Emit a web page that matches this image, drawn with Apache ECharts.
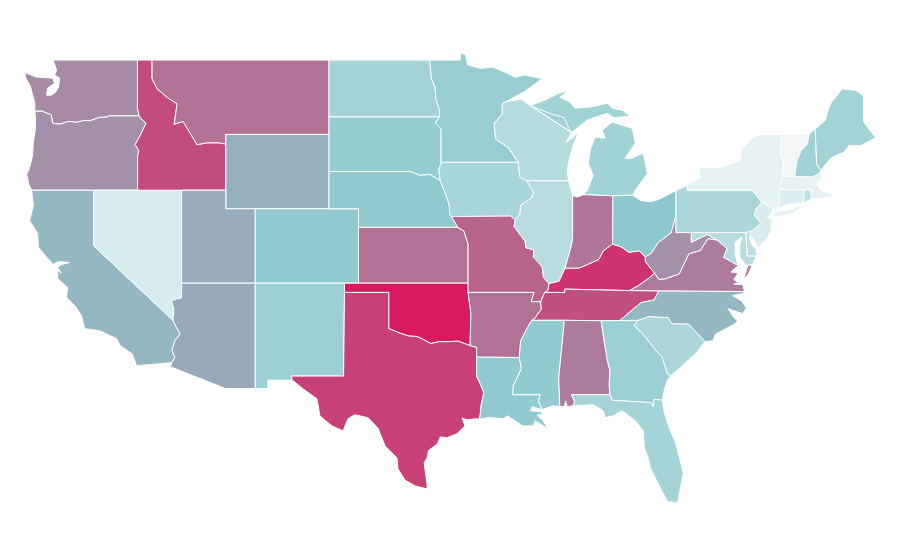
<!DOCTYPE html>
<html><head><meta charset="utf-8">
<style>html,body{margin:0;padding:0;background:#fff}#c{width:900px;height:560px}</style>
<script src="https://cdn.jsdelivr.net/npm/echarts@6/dist/echarts.min.js"></script>
</head><body><div id="c"></div>
<script>
const stateNames=["Washington","Oregon","California","Nevada","Idaho","Montana","Wyoming","Utah","Arizona","Colorado","New Mexico","North Dakota","South Dakota","Nebraska","Kansas","Oklahoma","Texas","Minnesota","Iowa","Missouri","Arkansas","Louisiana","Wisconsin","Illinois","Michigan","Indiana","Ohio","Kentucky","Tennessee","Mississippi","Alabama","Georgia","Florida","South Carolina","North Carolina","Virginia","West Virginia","Pennsylvania","New York","Vermont","New Hampshire","Maine","Massachusetts","Connecticut","Rhode Island","New Jersey","Delaware","Maryland"];
const stateValues=[68,66,55,16,86,75,57,58,59,48,43,39,45,48,75,100,89,44,36,79,75,47,31,29,40,74,50,93,85,47,72,43,38,35,55,72,66,35,8,1,40,39,8,14,25,15,27,30];
const colorStops=['#f5f5f7','#dff0f2','#c0e0e3','#a6d5d9','#8cc8cc','#9f9db1','#b27296','#c5467b','#d81b60'];

const borders={
wa_n:[-122.76,49,-117.04,49],
wa_pug:[-122.76,49,-122.52,48.46,-122.66,48.19,-122.32,48.03,-122.39,47.54,-122.6,47.27,-122.86,47.11,-123.2,47.11,-123.13,47.49,-122.66,47.76,-122.8,48.03,-123.88,48.08,-124.7,48.33,-124.6,48.0,-124.3,47.6,-124.15,47.11,-124,46.7,-124,46.25],
wa_or:[-124,46.25,-123.5,46.25,-123.2,46.15,-122.88,46.05,-122.8,45.6,-122.3,45.55,-121.7,45.7,-121.2,45.65,-120.65,45.75,-120.2,45.75,-119.6,45.92,-119.1,45.93,-118.98,46,-116.92,46],
wa_id:[-116.92,46,-117.04,46.4,-117.04,49],
or_coast:[-124,46.25,-123.95,45.9,-123.97,45.2,-124.1,44.6,-124.15,43.9,-124.35,43.2,-124.55,42.84,-124.4,42.3,-124.22,42],
or_ca:[-124.22,42,-120,42],
or_nv:[-120,42,-117.03,42],
or_id:[-116.92,46,-116.8,45.85,-116.46,45.6,-116.85,44.95,-117.2,44.45,-117.03,44.25,-116.95,44.1,-117.03,43.83,-117.03,42],
id_n:[-117.04,49,-116.05,49],
id_mt:[-116.05,49,-116.05,48,-115.7,47.45,-114.95,46.95,-114.35,46.65,-114.55,45.55,-113.95,45.7,-113.45,45.05,-113,44.45,-112.3,44.55,-111.5,44.55,-111.05,44.48],
id_wy:[-111.05,44.48,-111.05,42],
id_ut:[-111.05,42,-114.04,42],
id_nv:[-114.04,42,-117.03,42],
mt_n:[-116.05,49,-104.05,49],
mt_nd:[-104.05,49,-104.05,45.94],
mt_sd:[-104.05,45.94,-104.05,45],
mt_wy:[-104.05,45,-111.05,45,-111.05,44.48],
wy_sd:[-104.05,45,-104.05,43],
wy_ne:[-104.05,43,-104.05,41],
wy_co:[-104.05,41,-109.05,41],
wy_ut:[-109.05,41,-111.05,41,-111.05,42],
nv_ut:[-114.04,42,-114.04,37],
nv_az:[-114.04,37,-114.05,36.2,-114.4,36.15,-114.74,36.05,-114.57,35.6,-114.63,35],
nv_ca:[-114.63,35,-120,39,-120,42],
ca_coast:[-124.22,42,-124.09,41.18,-124.36,40.37,-123.81,39.67,-123.75,38.92,-123.1,38.3,-122.66,37.95,-122.66,38.06,-122.32,38.16,-121.64,38.11,-122.18,38,-122.46,37.85,-122.2,37.52,-122.46,37.7,-122.45,37.25,-121.78,36.76,-121.85,36.22,-121.3,35.8,-120.83,35.25,-120.62,34.55,-119.6,34.44,-118.45,34.01,-118.2,33.63,-117.4,33.2,-117.1,32.56],
ca_s:[-117.1,32.56,-114.72,32.72],
ca_az:[-114.72,32.72,-114.5,33,-114.7,33.4,-114.5,33.9,-114.15,34.27,-114.45,34.7,-114.63,35],
az_ut:[-114.04,37,-109.05,37],
az_nm:[-109.05,37,-109.05,31.33],
az_s:[-109.05,31.33,-111.07,31.33,-114.81,32.5,-114.72,32.72],
ut_co:[-109.05,41,-109.05,37],
co_ne:[-104.05,41,-102.05,41,-102.05,40],
co_ks:[-102.05,40,-102.05,37],
co_ok:[-102.05,37,-103,37],
co_nm:[-103,37,-109.05,37],
nm_ok:[-103,37,-103,36.5],
nm_tx:[-103,36.5,-103.06,32,-106.62,32,-106.53,31.78],
nm_s:[-106.53,31.78,-108.2,31.78,-108.2,31.33,-109.05,31.33],
nd_n:[-104.05,49,-97.23,49],
nd_mn:[-97.23,49,-97.1,48,-96.85,47.5,-96.8,46.9,-96.55,46.3,-96.56,45.94],
nd_sd:[-96.56,45.94,-104.05,45.94],
sd_mn:[-96.56,45.94,-96.85,45.6,-96.45,45.3,-96.45,43.5],
sd_ia:[-96.45,43.5,-96.6,43.1,-96.5,42.5],
sd_ne:[-96.5,42.5,-97.2,42.85,-97.9,42.8,-98.5,43,-104.05,43],
ne_ia:[-96.5,42.5,-96.1,41.7,-95.9,41.2,-95.85,40.7,-95.75,40.58],
ne_mo:[-95.75,40.58,-95.31,40],
ne_ks:[-95.31,40,-102.05,40],
ks_mo:[-95.31,40,-94.9,39.8,-94.62,39.1,-94.62,37],
ks_ok:[-94.62,37,-102.05,37],
ok_mo:[-94.62,37,-94.62,36.5],
ok_ar:[-94.62,36.5,-94.43,35.4,-94.48,33.64],
ok_tx:[-94.48,33.64,-95.3,33.88,-96,33.85,-96.6,33.85,-97.15,33.75,-97.6,33.95,-98.1,34.13,-98.6,34.15,-99.2,34.3,-100,34.56,-100,36.5,-103,36.5],
tx_ar:[-94.48,33.64,-94.04,33.55,-94.04,33.02],
tx_la:[-94.04,33.02,-94.04,32,-93.8,31.6,-93.55,31.1,-93.72,30.5,-93.8,29.9,-93.84,29.69],
tx_coast:[-93.84,29.69,-94.15,29.7,-94.7,29.65,-95.03,29.75,-94.83,29.32,-95.37,28.9,-96.05,28.68,-96.5,28.73,-96.7,28.35,-97.3,28.0,-97.4,27.6,-97.6,27.33,-97.5,26.74,-97.4,26.2,-97.4,25.93],
tx_mx:[-97.4,25.93,-98.2,26.09,-98.9,26.41,-99.37,27,-99.44,27.6,-100.25,28.25,-100.73,29.2,-101.4,29.76,-102.3,29.92,-102.77,29.7,-103.1,29.05,-103.85,29.32,-104.67,29.86,-104.87,30.78,-105.82,31.32,-106.53,31.78],
mn_n:[-97.23,49,-95.15,49,-95.15,49.38,-94.8,49.3,-94.65,48.75,-93.8,48.55,-92.95,48.62,-92,48.3,-91.4,48.07,-90.8,48.2,-89.6,48,-90.8,47.3,-92.1,46.75],
mn_wi:[-92.1,46.75,-92.3,46.65,-92.3,46.1,-92.85,45.6,-92.75,44.75,-91.9,44.3,-91.22,43.5],
mn_ia:[-91.22,43.5,-96.45,43.5],
ia_wi:[-91.22,43.5,-91.1,42.7,-90.64,42.51],
ia_il:[-90.64,42.51,-90.15,41.85,-90.35,41.55,-91.05,41.2,-91.1,40.7,-91.42,40.38],
ia_mo:[-91.42,40.38,-91.73,40.61,-95.75,40.58],
mo_il:[-91.42,40.38,-91.5,40.05,-90.75,39.25,-90.7,38.9,-90.15,38.8,-90.2,38.4,-89.6,37.9,-89.5,37.3,-89.13,36.98],
mo_ky:[-89.13,36.98,-89.2,36.6,-89.42,36.5],
mo_tn:[-89.42,36.5,-89.7,36],
mo_ar:[-89.7,36,-90.35,36,-90.15,36.5,-94.62,36.5],
ar_tn:[-89.7,36,-89.65,35.6,-90.1,35.1,-90.3,35],
ar_ms:[-90.3,35,-90.6,34.6,-91.05,33.9,-91.15,33],
ar_la:[-91.15,33,-94.04,33.02],
la_ms:[-91.15,33,-91,32.4,-91.55,31.5,-91.6,31,-89.73,31,-89.85,30.65,-89.6,30.2],
la_coast:[-89.6,30.2,-90.27,30.35,-90.4,30.13,-89.73,30.1,-89.53,29.97,-89.94,29.9,-89.53,29.6,-89.2,29.16,-90.07,29.6,-90.2,29.32,-90.9,29.32,-91.97,29.86,-92.24,29.7,-93.2,29.77,-93.84,29.69],
ms_tn:[-90.3,35,-88.2,35],
ms_al:[-88.2,35,-88.1,34.9,-88.47,31.9,-88.4,30.37],
ms_coast:[-88.4,30.37,-88.9,30.4,-89.6,30.2],
al_tn:[-88.2,35,-85.6,34.98],
al_ga:[-85.6,34.98,-85.18,32.87,-85,32.3,-85.05,31.55,-85,31],
al_fl:[-85,31,-87.6,31,-87.4,30.65,-87.5,30.4],
al_coast:[-87.5,30.4,-87.9,30.35,-88,30.65,-88.1,30.35,-88.4,30.37],
ga_tn:[-85.6,34.98,-84.32,34.99],
ga_nc:[-84.32,34.99,-83.1,35],
ga_sc:[-83.1,35,-83.35,34.7,-82.8,34.3,-82,33.5,-81.45,33,-81.1,32.1,-80.88,32.03],
ga_coast:[-80.88,32.03,-81.1,31.8,-81.3,31.3,-81.45,30.71],
fl_ga:[-85,31,-84.86,30.7,-82.2,30.57,-82.05,30.36,-82,30.75,-81.45,30.71],
fl_coast:[-87.5,30.4,-86.13,30.46,-85.45,30.13,-85.33,29.76,-84.78,29.86,-84.17,30.13,-83.28,29.6,-82.74,29.05,-82.67,28.14,-82.4,27.6,-82.26,27.06,-81.72,26.2,-81.1,25.25,-80.45,25.2,-80.36,25.39,-80.02,26.8,-80.55,28.4,-81,29.25,-81.3,30,-81.45,30.71],
sc_nc:[-83.1,35,-82.4,35.2,-81.05,35.15,-80.8,34.82,-79.67,34.8,-78.55,33.86],
sc_coast:[-78.55,33.86,-79.2,33.2,-79.9,32.7,-80.45,32.3,-80.88,32.03],
nc_tn:[-84.32,34.99,-83.5,35.55,-82.9,35.95,-82,36.1,-81.68,36.59],
nc_va:[-81.68,36.59,-75.87,36.55],
nc_coast:[-75.87,36.55,-75.96,36.44,-76.7,36.33,-76.1,36.06,-75.75,35.68,-76,35.36,-77,35.63,-76.6,35.15,-76.35,34.98,-76.5,34.82,-77.85,34.25,-78,33.9,-78.55,33.86],
tn_ky:[-89.42,36.5,-88.05,36.5,-88.07,36.68,-86.5,36.65,-83.68,36.6],
tn_va:[-83.68,36.6,-81.68,36.59],
ky_va:[-81.97,37.54,-82.3,37.3,-83.1,36.85,-83.68,36.6],
ky_wv:[-82.6,38.4,-82.6,38.17,-81.97,37.54],
oh_ky:[-82.6,38.4,-83,38.73,-83.7,38.65,-84.25,38.95,-84.82,39.1],
ky_in:[-84.82,39.1,-85.45,38.73,-85.75,38.27,-86.5,38,-87.1,37.8,-88.05,37.8],
il_ky:[-88.05,37.8,-88.45,37.1,-89.13,36.98],
il_wi:[-90.64,42.51,-87.8,42.5],
il_lake:[-87.8,42.5,-87.53,41.71],
il_in:[-87.53,41.71,-87.53,39.35,-87.65,38.9,-88.05,37.8],
in_lake:[-87.53,41.71,-87.2,41.63,-86.82,41.76],
in_mi:[-86.82,41.76,-84.8,41.7],
in_oh:[-84.8,41.7,-84.82,39.1],
oh_mi:[-84.8,41.7,-83.45,41.73],
oh_lake:[-83.45,41.73,-82.94,41.45,-82.3,41.38,-81.7,41.5,-80.52,41.98],
oh_pa:[-80.52,41.98,-80.52,40.64],
oh_wv:[-80.52,40.64,-80.85,39.7,-81.7,39.2,-82.2,38.6,-82.6,38.4],
wi_n:[-92.1,46.75,-91,46.9,-90.4,46.55],
wi_mi:[-90.4,46.55,-89.1,46.14,-88.1,45.9,-87.8,45.35,-87.6,45.1],
wi_lake:[-87.6,45.1,-88,44.55,-87.4,44.9,-87.05,45.25,-87.5,44.4,-87.75,43.7,-87.9,43,-87.8,42.5],
mi_low:[-86.82,41.76,-86.55,41.95,-86.13,42.8,-86.47,43.45,-86.34,44.15,-86,44.85,-85.33,44.8,-85.53,45.23,-84.85,45.66,-83.49,45.33,-83.28,44.53,-83.97,43.72,-83.6,43.7,-82.74,43.99,-82.46,42.9,-83.28,41.99,-83.45,41.73],
mi_up:[-87.6,45.1,-86.54,45.77,-85.18,46.14,-84.75,45.9,-83.63,45.98,-84.17,46.3,-84.85,46.41,-85.18,46.68,-86.34,46.47,-87.36,46.41,-87.7,46.74,-88.4,47,-87.83,47.38,-88.5,47.2,-89.4,46.85,-90.4,46.55],
pa_erie:[-80.52,41.98,-79.76,42.27],
pa_ny:[-79.76,42.27,-79.76,42,-75.35,42,-74.7,41.36],
pa_nj:[-74.7,41.36,-75.1,40.95,-75.2,40.65,-74.75,40.2,-75.4,39.8],
pa_de:[-75.4,39.8,-75.79,39.72],
pa_md:[-75.79,39.72,-79.48,39.72],
pa_wv:[-79.48,39.72,-80.52,39.72,-80.52,40.64],
wv_md:[-79.48,39.72,-79.48,39.2,-78.4,39.62,-77.72,39.32],
wv_va:[-77.72,39.32,-78.35,39.4,-78.87,38.76,-79.65,38.58,-80.3,37.5,-81.22,37.24,-81.68,37.2,-81.97,37.54],
va_md:[-77.72,39.32,-77.05,38.85,-77.3,38.4,-76.3,37.95],
va_bay:[-76.3,37.95,-76.8,37.6,-76.3,37.55,-76.6,37.2,-76.25,37,-76.6,36.95,-76,36.92,-75.87,36.55],
va_shore:[-75.35,38,-75.65,37.95,-75.95,37.15,-75.6,37.5,-75.35,38],
md_de:[-75.79,39.72,-75.7,38.46,-75.05,38.45],
md_sea:[-75.05,38.45,-75.35,38],
md_bay:[-75.35,38,-75.75,37.95,-76.2,38.4,-76.2,39,-76.05,39.5,-76.5,39.2,-76.5,38.5,-76.3,37.95],
de_bay:[-75.4,39.8,-75.55,39.45,-75.4,39.1,-75.1,38.8,-75.05,38.45],
nj_ny:[-74.7,41.36,-73.9,41],
nj_sea:[-73.9,41,-74.25,40.5,-74,40.45,-74.1,39.75,-74.4,39.35,-74.95,38.93,-75.15,39.2,-75.55,39.6,-75.4,39.8],
ny_w:[-79.76,42.27,-78.87,42.7,-79,43.23,-77.5,43.23,-76.15,43.6,-76.15,44.15,-75.26,44.85,-74.7,45,-73.35,45],
ny_vt:[-73.35,45,-73.4,44,-73.25,43.55,-73.27,42.75],
ny_ma:[-73.27,42.75,-73.5,42.05],
ny_ct:[-73.5,42.05,-73.55,41.3,-73.65,41],
ny_hud:[-73.65,41,-73.9,40.8,-73.9,41],
long_island:[-74,40.6,-73.75,40.85,-72.6,40.97,-72.3,41.15,-71.87,41.07,-72.8,40.7,-73.6,40.58,-74,40.6],
vt_n:[-73.35,45,-71.5,45],
vt_nh:[-71.5,45,-71.6,44.5,-72.05,44.1,-72.35,43.5,-72.46,42.73],
vt_ma:[-72.46,42.73,-73.27,42.75],
nh_n:[-71.5,45,-71.08,45.3],
nh_me:[-71.08,45.3,-70.98,43.4,-70.7,43.07],
nh_sea:[-70.7,43.07,-70.82,42.87],
nh_ma:[-70.82,42.87,-71.3,42.7,-72.46,42.73],
me_out:[-71.08,45.3,-70.4,45.75,-70.25,46.2,-70,46.7,-69.23,47.46,-69,47.43,-68.3,47.36,-67.8,47.07,-67.8,45.7,-67.45,45.3,-66.97,44.82,-68,44.4,-68.8,44.4,-69.1,44.05,-70,43.75,-70.7,43.07],
ma_sea:[-70.82,42.87,-70.6,42.65,-71,42.3,-70.65,41.95,-70,41.8,-70.05,42.05,-69.95,41.67,-70.65,41.55,-71.33,41.55],
ma_ri:[-71.33,41.55,-71.4,42.02,-71.8,42.02],
ma_ct:[-71.8,42.02,-73.5,42.05],
ri_ct:[-71.8,42.02,-71.86,41.32],
ri_sea:[-71.86,41.32,-71.33,41.55],
ct_sea:[-71.86,41.32,-72.9,41.25,-73.65,41]
};
const stateRings={
"Washington":"wa_pug wa_or wa_id -wa_n",
"Oregon":"or_coast or_ca or_nv -or_id -wa_or",
"California":"ca_coast ca_s ca_az nv_ca -or_ca",
"Nevada":"or_nv -id_nv nv_ut nv_az nv_ca",
"Idaho":"id_n id_mt id_wy id_ut id_nv -or_id wa_id",
"Montana":"mt_n mt_nd mt_sd mt_wy -id_mt",
"Wyoming":"-mt_wy wy_sd wy_ne wy_co wy_ut -id_wy",
"Utah":"-id_ut -wy_ut ut_co -az_ut -nv_ut",
"Arizona":"-nv_az az_ut az_nm az_s ca_az",
"Colorado":"-wy_co co_ne co_ks co_ok co_nm -ut_co",
"New Mexico":"-co_nm nm_ok nm_tx nm_s -az_nm",
"North Dakota":"nd_n nd_mn nd_sd -mt_nd",
"South Dakota":"-nd_sd sd_mn sd_ia sd_ne -wy_sd -mt_sd",
"Nebraska":"-sd_ne ne_ia ne_mo ne_ks -co_ne -wy_ne",
"Kansas":"-ne_ks ks_mo ks_ok -co_ks",
"Oklahoma":"-co_ok -ks_ok ok_mo ok_ar ok_tx -nm_ok",
"Texas":"-ok_tx tx_ar tx_la tx_coast tx_mx -nm_tx",
"Minnesota":"mn_n mn_wi mn_ia -sd_mn -nd_mn",
"Iowa":"-mn_ia ia_wi ia_il ia_mo -ne_ia -sd_ia",
"Missouri":"-ia_mo mo_il mo_ky mo_tn mo_ar -ok_mo -ks_mo -ne_mo",
"Arkansas":"-mo_ar ar_tn ar_ms ar_la -tx_ar -ok_ar",
"Louisiana":"-ar_la la_ms la_coast -tx_la",
"Wisconsin":"wi_n wi_mi wi_lake -il_wi -ia_wi -mn_wi",
"Illinois":"il_wi il_lake il_in il_ky -mo_il -ia_il",
"Michigan":"mi_low -oh_mi -in_mi|mi_up -wi_mi",
"Indiana":"in_lake in_mi in_oh ky_in -il_in",
"Ohio":"oh_mi oh_lake oh_pa oh_wv oh_ky -in_oh",
"Kentucky":"-mo_ky -il_ky -ky_in -oh_ky ky_wv ky_va -tn_ky",
"Tennessee":"tn_ky tn_va -nc_tn -ga_tn -al_tn -ms_tn -ar_tn -mo_tn",
"Mississippi":"ms_tn ms_al ms_coast -la_ms -ar_ms",
"Alabama":"al_tn al_ga al_fl al_coast -ms_al",
"Georgia":"ga_tn ga_nc ga_sc ga_coast -fl_ga -al_ga",
"Florida":"fl_ga -fl_coast -al_fl",
"South Carolina":"sc_nc sc_coast -ga_sc",
"North Carolina":"nc_tn nc_va nc_coast -sc_nc -ga_nc",
"Virginia":"-nc_va -tn_va -ky_va -wv_va va_md va_bay|va_shore",
"West Virginia":"-oh_wv -pa_wv wv_md wv_va -ky_wv",
"Pennsylvania":"pa_erie pa_ny pa_nj pa_de pa_md pa_wv -oh_pa",
"New York":"ny_w ny_vt ny_ma ny_ct ny_hud -nj_ny -pa_ny|long_island",
"Vermont":"vt_n vt_nh vt_ma -ny_vt",
"New Hampshire":"nh_n nh_me nh_sea nh_ma -vt_nh",
"Maine":"me_out -nh_me",
"Massachusetts":"-nh_ma ma_sea ma_ri ma_ct -ny_ma -vt_ma",
"Connecticut":"-ma_ct ri_ct ct_sea -ny_ct",
"Rhode Island":"ma_ri ri_ct ri_sea",
"New Jersey":"nj_ny nj_sea -pa_nj",
"Delaware":"-pa_de de_bay -md_de",
"Maryland":"-pa_md md_de md_sea md_bay -va_md -wv_md"
};
function ring(spec){
  const pts=[];
  spec.trim().split(/\s+/).forEach(tok=>{
    const rev=tok[0]==='-', a=borders[rev?tok.slice(1):tok], p=[];
    for(let i=0;i<a.length;i+=2)p.push([a[i],a[i+1]]);
    if(rev)p.reverse();
    p.forEach(q=>{const l=pts[pts.length-1]; if(!l||l[0]!==q[0]||l[1]!==q[1])pts.push(q);});
  });
  const f=pts[0],l=pts[pts.length-1]; if(f[0]!==l[0]||f[1]!==l[1])pts.push(f);
  return pts;
}
const geo={type:'FeatureCollection',features:stateNames.map(n=>({type:'Feature',properties:{name:n},
  geometry:{type:'MultiPolygon',coordinates:stateRings[n].split('|').map(s=>[ring(s)])}}))};
echarts.registerMap('USA',geo);
const chart=echarts.init(document.getElementById('c'),null,{renderer:'canvas'});
chart.setOption({
  animation:false,backgroundColor:'#fff',
  visualMap:{show:false,min:0,max:100,inRange:{color:colorStops},calculable:false},
  series:[{type:'map',map:'USA',roam:false,aspectScale:0.794,left:24.5,top:53,width:851.3,height:449.5,
    silent:true,label:{show:false},
    itemStyle:{borderColor:'#fff',borderWidth:1},
    emphasis:{disabled:true},select:{disabled:true},
    data:stateNames.map((n,i)=>({name:n,value:stateValues[i]}))}]
});
</script></body></html>
